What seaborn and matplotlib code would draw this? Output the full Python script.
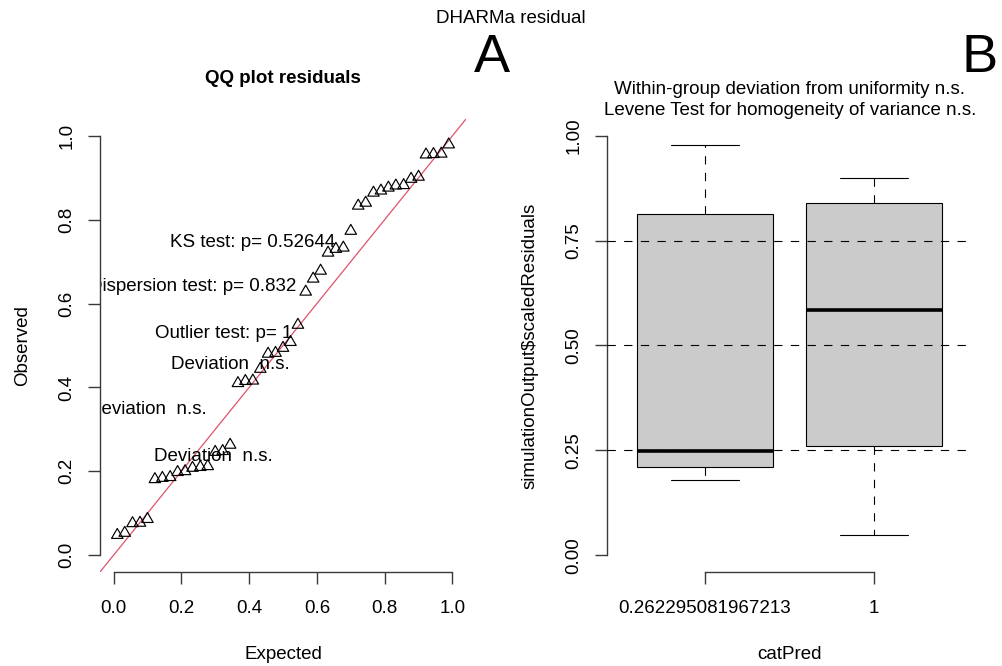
import numpy as np
import pandas as pd
import matplotlib
matplotlib.use("Agg")
import matplotlib.pyplot as plt
from matplotlib.path import Path
import seaborn as sns

# ---------------- data ----------------
expected = [0.011, 0.033, 0.056, 0.078, 0.100, 0.122, 0.144, 0.167, 0.189,
            0.211, 0.233, 0.256, 0.278, 0.300, 0.322, 0.344, 0.367, 0.389,
            0.411, 0.433, 0.456, 0.478, 0.500, 0.522, 0.544, 0.567, 0.589,
            0.611, 0.633, 0.656, 0.678, 0.700, 0.722, 0.744, 0.767, 0.789,
            0.811, 0.833, 0.856, 0.878, 0.900, 0.922, 0.944, 0.967, 0.989]
observed = [0.048, 0.053, 0.076, 0.077, 0.086, 0.181, 0.184, 0.186, 0.198,
            0.200, 0.208, 0.210, 0.212, 0.246, 0.248, 0.263, 0.410, 0.415,
            0.416, 0.444, 0.480, 0.482, 0.494, 0.508, 0.549, 0.628, 0.659,
            0.678, 0.721, 0.730, 0.733, 0.773, 0.833, 0.840, 0.864, 0.869,
            0.876, 0.881, 0.882, 0.897, 0.902, 0.955, 0.956, 0.957, 0.979]

qq_texts = ["KS test: p= 0.52644", "Dispersion test: p= 0.832",
            "Outlier test: p= 1", "Deviation  n.s.", "Deviation  n.s.",
            "Deviation  n.s."]
qq_text_x = [0.653, 0.540, 0.527, 0.520, 0.275, 0.469]
qq_text_y = [0.734, 0.629, 0.517, 0.443, 0.336, 0.225]

cat_levels = ["0.262295081967213", "1"]
group_low = [0.180, 0.210, 0.248, 0.814, 0.977]
group_high = [0.048, 0.261, 0.584, 0.840, 0.900]
ref_levels = [0.25, 0.50, 0.75]

qq_ticks = [0.0, 0.2, 0.4, 0.6, 0.8, 1.0]
qq_ticklabels = ["0.0", "0.2", "0.4", "0.6", "0.8", "1.0"]
box_ticks = [0.0, 0.25, 0.50, 0.75, 1.0]
box_ticklabels = ["0.00", "0.25", "0.50", "0.75", "1.00"]

# ---------------- style ----------------
sns.set_theme(style="ticks")
plt.rcParams["font.family"] = ["Liberation Sans", "DejaVu Sans"]
plt.rcParams["lines.scale_dashes"] = False
FS = 13.5
AXC = "#3a3a3a"
DASH = (0, (6, 6))

W, H = 1003, 666
fig = plt.figure(figsize=(W / 100, H / 100), dpi=100)


def rect(l, t, r, b):
    return [l / W, 1 - b / H, (r - l) / W, (b - t) / H]


ax1 = fig.add_axes(rect(100, 119, 466, 572))
ax2 = fig.add_axes(rect(607, 119, 972, 572))

# ---------------- panel A : QQ plot ----------------
tri = Path([(-1.3468, -0.7776), (1.3468, -0.7776), (0.0, 1.5551),
            (-1.3468, -0.7776)], closed=True)
ax1.axline((0, 0), slope=1, color="#DF536B", lw=0.9, zorder=1)
sns.scatterplot(x=expected, y=observed, ax=ax1, marker=tri, s=91,
                color="none", edgecolor="black", linewidth=0.85,
                zorder=3, legend=False)
for s, x, y in zip(qq_texts, qq_text_x, qq_text_y):
    ax1.text(x, y, s, ha="right", va="baseline", fontsize=FS,
             color="black", clip_on=True, zorder=2)

ax1.set_xlim(-0.04, 1.04)
ax1.set_ylim(-0.04, 1.04)
ax1.set_xticks(qq_ticks, qq_ticklabels)
ax1.set_yticks(qq_ticks, qq_ticklabels)

# ---------------- panel B : boxplot ----------------
df = pd.DataFrame({
    "catPred": [cat_levels[0]] * len(group_low) + [cat_levels[1]] * len(group_high),
    "scaledResiduals": group_low + group_high,
})
sns.boxplot(data=df, x="catPred", y="scaledResiduals", order=cat_levels,
            ax=ax2, color="#CBCBCB", saturation=1, width=0.8,
            linecolor="black", linewidth=0.8, whis=1.5, showfliers=False,
            medianprops=dict(linewidth=2.6, color="black"),
            whiskerprops=dict(linestyle=DASH))
for h in ref_levels:
    ax2.axhline(h, color="black", lw=0.8, linestyle=DASH, zorder=5)

ax2.set_xlim(-0.58, 1.58)
ax2.set_ylim(-0.04, 1.04)
ax2.set_xticks([0, 1], cat_levels)
ax2.set_yticks(box_ticks, box_ticklabels)

# ---------------- axes cosmetics (R base style) ----------------
for ax in (ax1, ax2):
    for side in ("top", "right"):
        ax.spines[side].set_visible(False)
    for side in ("left", "bottom"):
        ax.spines[side].set_color(AXC)
        ax.spines[side].set_linewidth(1.0)
    ax.spines["left"].set_bounds(0, 1)
    ax.tick_params(axis="both", direction="out", length=8.6, width=1.0,
                   color=AXC, labelsize=FS, labelcolor="black",
                   bottom=True, left=True)
    ax.tick_params(axis="y", pad=8.9)
    ax.tick_params(axis="x", pad=11.5)
    for lbl in ax.get_yticklabels():
        lbl.set_rotation(90)
        lbl.set_va("center")
        lbl.set_ha("right")
    ax.grid(False)
ax1.spines["bottom"].set_bounds(0, 1)
ax2.spines["bottom"].set_bounds(0, 1)

ax1.set_xlabel("Expected", fontsize=FS, color="black")
ax1.set_ylabel("Observed", fontsize=FS, color="black")
ax2.set_xlabel("catPred", fontsize=FS, color="black")
ax2.set_ylabel(r"simulationOutput\$scaledResiduals", fontsize=FS, color="black")
for ax in (ax1, ax2):
    ax.xaxis.set_label_coords(0.5, -0.1634)
ax1.yaxis.set_label_coords(-0.189, 0.5)
ax2.yaxis.set_label_coords(-0.187, 0.5)

# ---------------- titles ----------------
def fx(px):
    return px / W


def fy(py):
    return 1 - py / H


fig.text(fx(511), fy(23.3), "DHARMa residual", ha="center", va="baseline",
         fontsize=FS, color="black")
fig.text(fx(492), fy(72), "A", ha="center", va="baseline", fontsize=39,
         color="black")
fig.text(fx(962), fy(72), "B", ha="left", va="baseline", fontsize=39,
         color="black")
fig.text(fx(283), fy(82.7), "QQ plot residuals", ha="center", va="baseline",
         fontsize=FS, fontweight="bold", color="black")
fig.text(fx(790), fy(94), "Within-group deviation from uniformity n.s.",
         ha="center", va="baseline", fontsize=FS, color="black")
fig.text(fx(790), fy(115), "Levene Test for homogeneity of variance n.s.",
         ha="center", va="baseline", fontsize=FS, color="black")

fig.savefig("out.png", dpi=100, facecolor="white")
